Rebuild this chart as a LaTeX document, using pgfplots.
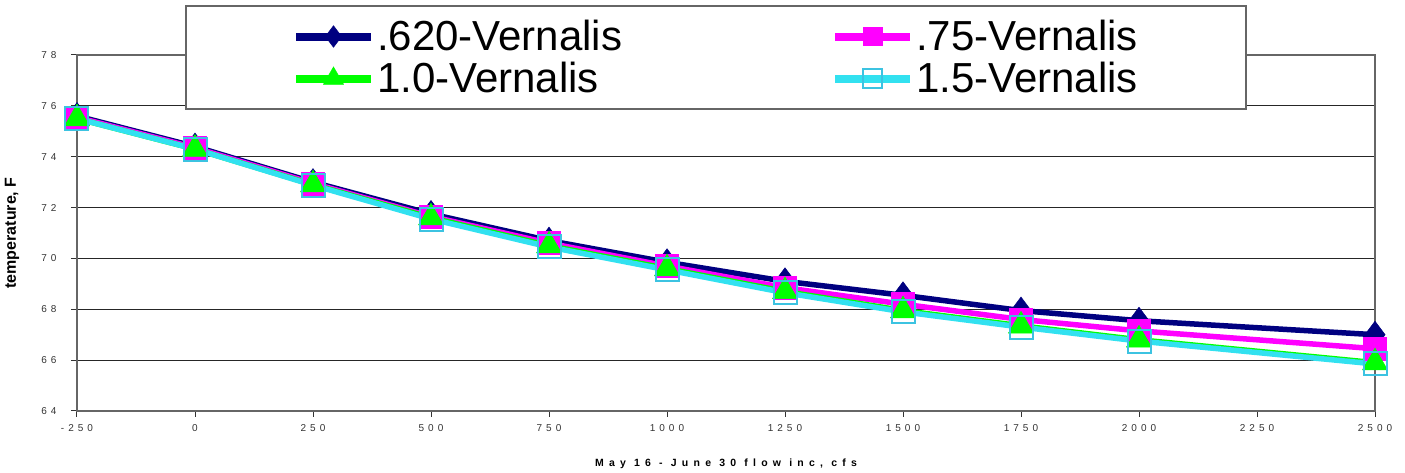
\documentclass[border=0pt]{standalone}
\usepackage{fontspec}
\setmainfont{Liberation Sans}
\newfontfamily\tickfont[LetterSpace=40]{Liberation Sans}
\newfontfamily\xlabfont[LetterSpace=50]{Liberation Sans}
\usepackage{pgfplots}
\usepackage{pgfplotstable}
\pgfplotsset{compat=1.18}
\definecolor{navyc}{RGB}{0,0,128}
\definecolor{magc}{RGB}{255,0,255}
\definecolor{greenc}{RGB}{0,255,0}
\definecolor{cyanl}{RGB}{50,225,240}
\definecolor{cyane}{RGB}{60,195,225}

\pgfplotstableread{
x a b c d
-250 75.60 75.55 75.50 75.50
0 74.40 74.35 74.30 74.30
250 73.00 72.95 72.90 72.88
500 71.75 71.65 71.60 71.55
750 70.70 70.60 70.50 70.45
1000 69.85 69.70 69.60 69.55
1250 69.10 68.85 68.70 68.65
1500 68.55 68.20 67.95 67.90
1750 67.95 67.60 67.35 67.30
2000 67.55 67.15 66.80 66.75
2500 67.00 66.45 65.90 65.85
}\datatable

\begin{document}
\begin{tikzpicture}
\begin{axis}[
  scale only axis, width=1298pt, height=356pt,
  xmin=-250, xmax=2500, ymin=64, ymax=78,
  xtick={-250,0,...,2500},
  xticklabels={-250,0,250,500,750,1000,1250,1500,1750,2000,2250,2500},
  ytick={64,66,...,78},
  yticklabels={64,66,68,70,72,74,76,78},
  ymajorgrids,
  major grid style={black!85, line width=1.2pt},
  axis line style={draw=black!60, line width=2pt},
  tick style={black!80, line width=1pt},
  tick align=outside, major tick length=6pt,
  xtick pos=bottom, ytick pos=left,
  ticklabel style={font=\tickfont\fontsize{10}{12}\selectfont, text=black!80},
  xticklabel style={yshift=-4pt},
  yticklabel style={xshift=-11pt},
  xlabel={\xlabfont\bfseries\fontsize{10.5}{12}\selectfont May 16 - June 30 flow inc, cfs},
  ylabel={\bfseries\fontsize{16}{18}\selectfont temperature, F},
  every axis x label/.style={at={(axis description cs:0.5,-0.149)}, anchor=center},
  every axis y label/.style={at={(axis description cs:-0.05,0.5)}, anchor=center, rotate=90},
  legend columns=2,
  legend style={at={(axis description cs:0.0832,1.1404)}, anchor=north west,
    draw=black!60, line width=2pt, fill=white, inner xsep=106pt, inner ysep=12pt,
    font=\fontsize{42}{42}\selectfont, row sep=5pt,
    nodes={inner sep=2pt, text height=30pt, text depth=3pt},
    /tikz/column 2/.style={column sep=207pt}},
  legend cell align=left,
  legend image code/.code={
    \draw[#1, sharp plot, line width=8pt, mark repeat=2, mark phase=2,
      every mark/.append style={scale=0.8}]
      plot coordinates {(0pt,0pt) (37.5pt,0pt) (75pt,0pt)};
  },
]
% lines first
\addplot[forget plot, color=navyc, line width=5.5pt, no markers] table[x=x,y=a]{\datatable};
\addplot[forget plot, color=magc, line width=5.5pt, no markers] table[x=x,y=b]{\datatable};
\addplot[forget plot, color=greenc, line width=5.5pt, no markers] table[x=x,y=c]{\datatable};
\addplot[forget plot, color=cyanl, line width=5.5pt, no markers] table[x=x,y=d]{\datatable};
% markers on top
\addplot[only marks, color=navyc, mark=diamond*, mark size=13.5pt,
  mark options={line width=0.5pt, fill=navyc, draw=navyc}] table[x=x,y=a]{\datatable};
\addlegendentry{.620-Vernalis}
\addplot[only marks, color=magc, mark=square*, mark size=11.5pt,
  mark options={line width=0.5pt, fill=magc, draw=magc}] table[x=x,y=b]{\datatable};
\addlegendentry{.75-Vernalis\hspace{20pt}}
\addplot[only marks, color=greenc, mark=triangle*, mark size=14.5pt,
  mark options={line width=0.5pt, fill=greenc, draw=greenc}] table[x=x,y=c]{\datatable};
\addlegendentry{1.0-Vernalis}
\addplot[only marks, color=cyanl, mark=square, mark size=11.5pt,
  mark options={line width=2pt, draw=cyane, fill=none}] table[x=x,y=d]{\datatable};
\addlegendentry{1.5-Vernalis\hspace{20pt}}
\end{axis}
\pgfresetboundingbox
\path[use as bounding box] ([shift={(-77pt,-62pt)}]current axis.south west) rectangle ([shift={(30pt,55pt)}]current axis.north east);
\end{tikzpicture}
\end{document}
